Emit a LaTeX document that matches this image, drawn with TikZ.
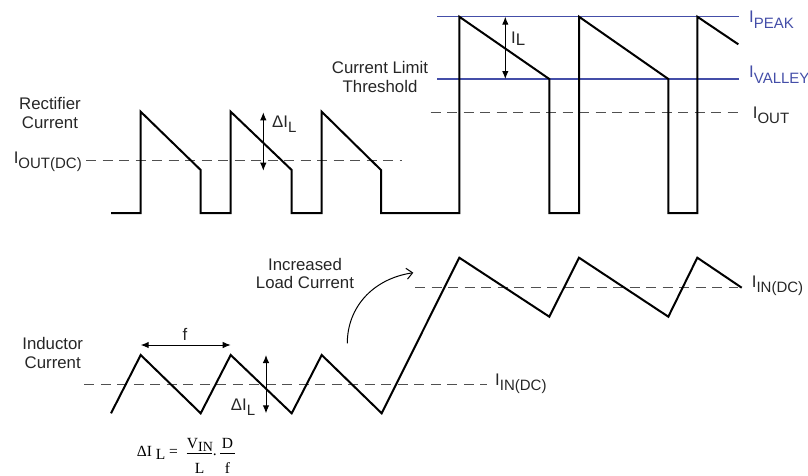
\documentclass[tikz,border=0pt]{standalone}
\usepackage{fontspec}
\setmainfont{Liberation Sans}
\newfontfamily\serifx{Liberation Serif}
\usetikzlibrary{arrows.meta}
\definecolor{limblue}{RGB}{68,78,168}
\definecolor{dashgrey}{RGB}{80,80,80}
\newcommand\lowsub[1]{\raisebox{-5.5pt}{\fontsize{15}{15}\selectfont #1}}
\begin{document}
\begin{tikzpicture}[x=1pt,y=-1pt,
  wave/.style={line width=2pt, line join=miter, black},
  dcline/.style={dashgrey, line width=1pt, dash pattern=on 10pt off 6.5pt},
  limline/.style={limblue, line width=1.3pt},
  dim/.style={line width=1pt, {Latex[length=8pt,width=6.5pt]}-{Latex[length=8pt,width=6.5pt]}},
  lbl/.style={font=\fontsize{16.8}{18.7}\selectfont, text=black!85, inner sep=0pt},
  bluelbl/.style={lbl, text=limblue},
  fx/.style={font=\serifx\fontsize{15.5}{16}\selectfont, inner sep=0pt},
  fbar/.style={line width=0.8pt}]
\useasboundingbox (0,0) rectangle (808,475);
% limit lines
\draw[limline] (437.3,16.7) -- (739.3,16.7);
\draw[limline] (437.3,79) -- (739.3,79);
% dashed DC levels
\draw[dcline] (86,160) -- (401.7,160);
\draw[dcline] (430.7,112.3) -- (739,112.3);
\draw[dcline] (84.3,384.3) -- (486.7,384.3);
\draw[dcline] (415,287.7) -- (738.3,287.7);
% rectifier current
\draw[wave] (111,213) -- (140.7,213) -- (140.7,111.7) -- (200.7,170) -- (200.7,213)
  -- (230.7,213) -- (230.7,111.7) -- (291.7,170) -- (291.7,213)
  -- (321.7,213) -- (321.7,111.7) -- (381,170) -- (381,213)
  -- (459.3,213) -- (459.3,16.7) -- (549.3,79) -- (549.3,213)
  -- (579,213) -- (579,16.7) -- (668.3,79) -- (668.3,213)
  -- (697.3,213) -- (697.3,16.7) -- (738.3,44.3);
% inductor current
\draw[wave] (111,413.3) -- (140.7,355) -- (200.7,413.3) -- (230.7,355) -- (291.7,413.3)
  -- (321.7,355) -- (381.7,413.3) -- (459.3,257.7) -- (549.3,316.7) -- (579,257.7)
  -- (668.3,316.7) -- (697.3,257.7) -- (741.7,287.7);
% dimension arrows
\coordinate (d1t) at (263.3,112.3); \coordinate (d1b) at (263.3,170.7);
\draw[dim] (d1t) -- (d1b);
\coordinate (ilt) at (505.3,16.7); \coordinate (ilb) at (505.3,79);
\draw[dim] (ilt) -- (ilb);
\coordinate (fl) at (140.7,345); \coordinate (fr) at (230.7,345);
\draw[dim] (fl) -- (fr);
\coordinate (d2t) at (266,355); \coordinate (d2b) at (266,413.3);
\draw[dim] (d2t) -- (d2b);
% curved arrow
\coordinate (ca1) at (347.3,343.3); \coordinate (ca2) at (413.3,272.7);
\draw[line width=1pt, -{Straight Barb[length=6pt,width=11pt]}] (ca1) .. controls (347.3,308) and (372,279) .. (ca2);
% labels
\node[lbl, align=center] (rect) at (50,113) {Rectifier\\Current};
\node[lbl, anchor=base east] (ioutdc) at (82,163.3) {I\lowsub{OUT(DC)}};
\node[lbl, anchor=base west] (dil1) at (272,127) {ΔI\lowsub{L}};
\node[lbl, align=center] (cl) at (380,76.7) {Current Limit\\Threshold};
\node[lbl, anchor=base west] (il) at (511,43.5) {I\raisebox{-1.5pt}{L}};
\node[bluelbl, anchor=base west] (ipeak) at (749,22.7) {I\lowsub{PEAK}};
\node[bluelbl, anchor=base west] (ivalley) at (749,77.7) {I\lowsub{VALLEY}};
\node[lbl, anchor=base west] (iout) at (752.7,118.3) {I\lowsub{OUT}};
\node[lbl, align=center] (ind) at (52.7,353) {Inductor\\Current};
\node[lbl, anchor=base] (flbl) at (185,340) {f};
\node[lbl, anchor=base west] (dil2) at (230.7,410) {ΔI\lowsub{L}};
\node[lbl, align=center] (inc) at (305,273.5) {Increased\\Load Current};
\node[lbl, anchor=base west] (iindc1) at (495,385) {I\lowsub{IN(DC)}};
\node[lbl, anchor=base west] (iindc2) at (751.7,287) {I\lowsub{IN(DC)}};
% formula
\node[fx, anchor=base west] (flhs) at (136.7,456) {ΔI\lower3pt\hbox{ L} =};
\node[fx, anchor=base west] (fnum1) at (186.7,448.3) {V\lower2.7pt\hbox{\fontsize{14}{14}\selectfont IN}};
\draw[fbar] (186.7,453.3) -- (212.3,453.3);
\node[fx, anchor=base] (fden1) at (199.5,473) {L};
\node[fx, anchor=base] (fdot) at (214.8,455.5) {.};
\node[fx, anchor=base] (fnum2) at (227.5,448.3) {D};
\draw[fbar] (220,453.3) -- (235,453.3);
\node[fx, anchor=base] (fden2) at (227.5,473) {f};
\end{tikzpicture}
\end{document}
